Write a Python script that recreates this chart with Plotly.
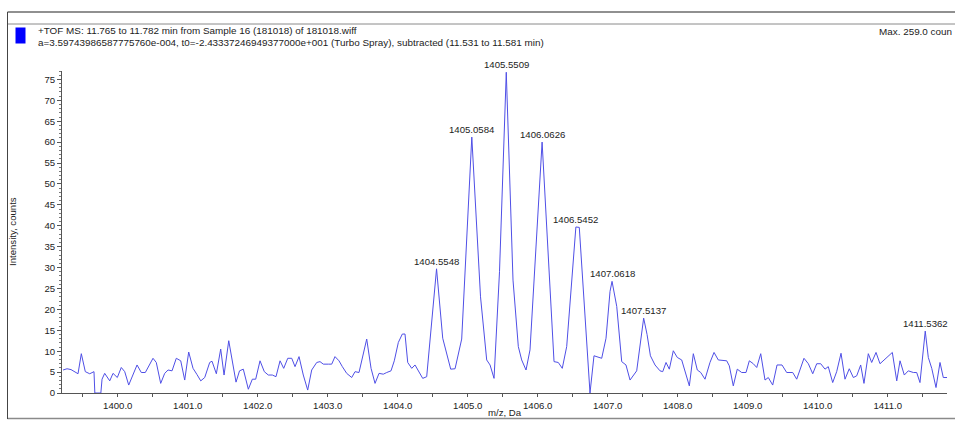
import plotly.graph_objects as go

# ---- spectrum data: m/z (Da) and intensity (counts) ----
mz = [
    1399.219, 1399.276, 1399.333, 1399.390, 1399.433, 1399.480, 1399.537, 1399.600,
    1399.661, 1399.673, 1399.719, 1399.759, 1399.776, 1399.814, 1399.886, 1399.933,
    1399.994, 1400.051, 1400.100, 1400.157, 1400.276, 1400.337, 1400.394, 1400.504,
    1400.551, 1400.614, 1400.671, 1400.719, 1400.776, 1400.837, 1400.900, 1400.957,
    1401.014, 1401.076, 1401.133, 1401.186, 1401.243, 1401.314, 1401.347, 1401.409,
    1401.471, 1401.519, 1401.586, 1401.647, 1401.690, 1401.740, 1401.794, 1401.866,
    1401.923, 1401.971, 1402.033, 1402.094, 1402.151, 1402.209, 1402.261, 1402.319,
    1402.371, 1402.429, 1402.486, 1402.533, 1402.590, 1402.651, 1402.714, 1402.771,
    1402.843, 1402.890, 1402.937, 1403.009, 1403.057, 1403.104, 1403.161, 1403.209,
    1403.271, 1403.343, 1403.390, 1403.447, 1403.557, 1403.619, 1403.676, 1403.733,
    1403.794, 1403.843, 1403.904, 1403.951, 1404.009, 1404.066, 1404.104, 1404.143,
    1404.200, 1404.247, 1404.294, 1404.357, 1404.414, 1404.5548, 1404.643, 1404.757,
    1404.819, 1404.914, 1405.0584, 1405.183, 1405.271, 1405.319, 1405.376, 1405.454,
    1405.5509, 1405.647, 1405.723, 1405.771, 1405.833, 1405.890, 1406.0626, 1406.233,
    1406.294, 1406.351, 1406.414, 1406.5452, 1406.594, 1406.669, 1406.747, 1406.804,
    1406.914, 1406.976, 1407.033, 1407.0618, 1407.129, 1407.200, 1407.261, 1407.319,
    1407.414, 1407.5137, 1407.562, 1407.610, 1407.676, 1407.747, 1407.786, 1407.833,
    1407.880, 1407.937, 1407.994, 1408.057, 1408.104, 1408.166, 1408.223, 1408.280,
    1408.329, 1408.390, 1408.461, 1408.519, 1408.580, 1408.643, 1408.700, 1408.737,
    1408.794, 1408.851, 1408.914, 1408.976, 1409.023, 1409.080, 1409.129, 1409.186,
    1409.247, 1409.294, 1409.357, 1409.419, 1409.490, 1409.557, 1409.643, 1409.700,
    1409.804, 1409.866, 1409.929, 1409.986, 1410.043, 1410.104, 1410.151, 1410.214,
    1410.271, 1410.333, 1410.390, 1410.451, 1410.509, 1410.557, 1410.614, 1410.661,
    1410.723, 1410.771, 1410.833, 1410.890, 1411.066, 1411.129, 1411.176, 1411.237,
    1411.294, 1411.366, 1411.414, 1411.461, 1411.5362, 1411.580, 1411.629, 1411.690,
    1411.747, 1411.794, 1411.851,
]
intensity = [
    5.5, 5.8, 5.6, 5.0, 4.6, 9.4, 5.1, 4.6,
    5.1, 0.0, 0.0, 0.0, 3.3, 4.7, 2.9, 4.7,
    3.7, 6.1, 5.1, 1.9, 6.7, 4.9, 4.9, 8.3,
    7.3, 2.3, 4.7, 5.5, 5.3, 8.3, 7.7, 3.1,
    9.8, 5.9, 4.4, 2.9, 3.7, 7.3, 7.6, 4.6,
    10.5, 4.3, 12.5, 6.7, 2.6, 5.3, 5.7, 0.9,
    3.3, 3.3, 7.7, 5.1, 4.3, 4.3, 3.9, 7.7,
    5.9, 8.3, 8.3, 6.3, 8.7, 4.3, 0.7, 5.5,
    7.3, 7.5, 6.9, 6.9, 6.9, 8.7, 7.7, 6.3,
    4.7, 3.7, 5.1, 4.9, 12.9, 5.9, 2.3, 4.7,
    4.5, 4.9, 5.3, 7.7, 12.1, 14.1, 14.1, 7.3,
    5.9, 6.7, 5.3, 3.5, 3.9, 29.7, 13.1, 5.7,
    5.8, 12.9, 61.2, 23.0, 7.9, 6.7, 3.5, 29.0,
    76.7, 27.0, 11.1, 7.9, 5.5, 10.3, 60.0, 7.5,
    7.3, 5.9, 11.1, 39.7, 39.6, 19.0, 0.0, 8.9,
    8.3, 13.1, 24.3, 26.7, 20.7, 7.5, 6.7, 3.1,
    5.3, 17.9, 14.0, 8.9, 6.7, 5.3, 5.1, 7.3,
    5.7, 10.1, 8.5, 7.9, 5.3, 1.7, 9.4, 5.5,
    4.9, 3.3, 7.3, 9.7, 7.9, 7.7, 7.7, 6.5,
    1.7, 5.7, 4.9, 4.9, 7.7, 7.0, 6.1, 9.4,
    3.1, 3.7, 1.9, 6.7, 6.7, 4.9, 4.9, 3.3,
    8.3, 7.0, 4.6, 7.0, 7.0, 5.7, 6.3, 2.5,
    5.1, 9.5, 3.3, 5.8, 3.7, 4.1, 6.7, 2.3,
    9.4, 7.3, 9.7, 7.0, 9.7, 2.9, 7.7, 4.3,
    5.3, 4.9, 4.9, 2.5, 14.8, 8.5, 5.9, 1.3,
    7.3, 3.7, 3.7,
]

# centroid labels drawn above the isotope peaks
peak_mz = [1404.5548, 1405.0584, 1405.5509, 1406.0626, 1406.5452,
           1407.0618, 1407.5137, 1411.5362]

x_tick_values = [1399.5 + 0.5 * i for i in range(25)]
x_tick_labels = [f"{v:.1f}" if v == int(v) else "" for v in x_tick_values]
y_tick_values = list(range(0, 80, 5))

header_line1 = "+TOF MS: 11.765 to 11.782 min from Sample 16 (181018) of 181018.wiff"
header_line2 = ("a=3.59743986587775760e-004, t0=-2.43337246949377000e+001 "
                "(Turbo Spray), subtracted (11.531 to 11.581 min)")
max_text = "Max. 259.0 coun"
threshold_level = 15

x_range = [1399.204, 1411.847]
y_range = [0, 77]

# ---- layout geometry (pixels) ----
W, H = 955, 428
ML, MR, MT, MB = 62, 8, 71, 35
PW, PH = W - ML - MR, H - MT - MB


def px(xpix):
    return (xpix - ML) / PW


def py(ypix):
    return (H - MB - ypix) / PH


FONT = "Liberation Sans, Arial, sans-serif"
TXT = "#222222"
LINE = "#4f4fe6"

fig = go.Figure()
fig.add_trace(go.Scatter(x=mz, y=intensity, mode="lines",
                         line=dict(color=LINE, width=1), hoverinfo="skip",
                         showlegend=False))

# small marker on the intensity axis
fig.add_trace(go.Scatter(x=[x_range[0] - 0.045], y=[threshold_level], mode="markers",
                         marker=dict(symbol="triangle-right", size=7, color="#1a1aff"),
                         cliponaxis=False, showlegend=False, hoverinfo="skip"))

annotations = []
for p in peak_mz:
    i = mz.index(p)
    annotations.append(dict(x=p, y=intensity[i], text=f"{p:.4f}", showarrow=False,
                            xanchor="center", yanchor="bottom", yshift=0,
                            font=dict(family=FONT, size=9.6, color=TXT)))

annotations += [
    dict(xref="paper", yref="paper", x=px(36), y=py(31), text=header_line1,
         showarrow=False, xanchor="left", yanchor="middle",
         font=dict(family=FONT, size=9.9, color=TXT)),
    dict(xref="paper", yref="paper", x=px(36), y=py(42.5), text=header_line2,
         showarrow=False, xanchor="left", yanchor="middle",
         font=dict(family=FONT, size=9.9, color=TXT)),
    dict(xref="paper", yref="paper", x=px(954), y=py(32), text=max_text,
         showarrow=False, xanchor="right", yanchor="middle",
         font=dict(family=FONT, size=9.9, color=TXT)),
    dict(xref="paper", yref="paper", x=px(12), y=py(232), text="Intensity, counts",
         showarrow=False, textangle=-90, xanchor="center", yanchor="middle",
         font=dict(family=FONT, size=9.6, color=TXT)),
    dict(xref="paper", yref="paper", x=0.5, y=py(413), text="m/z, Da",
         showarrow=False, xanchor="center", yanchor="middle",
         font=dict(family=FONT, size=9.6, color=TXT)),
]

shapes = [
    # panel frame
    dict(type="line", xref="paper", yref="paper", x0=px(7.5), x1=px(956),
         y0=py(12), y1=py(12), line=dict(color="#222222", width=1.2)),
    dict(type="line", xref="paper", yref="paper", x0=px(7.5), x1=px(956),
         y0=py(24), y1=py(24), line=dict(color="#8a8a8a", width=1)),
    dict(type="line", xref="paper", yref="paper", x0=px(7.5), x1=px(956),
         y0=py(418.5), y1=py(418.5), line=dict(color="#8a8a8a", width=1.5)),
    dict(type="line", xref="paper", yref="paper", x0=px(7.5), x1=px(7.5),
         y0=py(12), y1=py(419), line=dict(color="#444444", width=1)),
    # sample colour swatch
    dict(type="rect", xref="paper", yref="paper", x0=px(15.5), x1=px(25.5),
         y0=py(27.5), y1=py(43.5), fillcolor="#0000ff", line=dict(width=0)),
]

fig.update_layout(
    width=W, height=H,
    margin=dict(l=ML, r=MR, t=MT, b=MB),
    paper_bgcolor="white", plot_bgcolor="white",
    font=dict(family=FONT, size=9.6, color=TXT),
    annotations=annotations, shapes=shapes, showlegend=False,
    xaxis=dict(range=x_range, tickvals=x_tick_values, ticktext=x_tick_labels,
               ticks="outside", ticklen=3, tickcolor="#555555", showgrid=False,
               zeroline=False, showline=True, linecolor="#555555", linewidth=1,
               tickfont=dict(family=FONT, size=9.6, color=TXT)),
    yaxis=dict(range=y_range, tickvals=y_tick_values, ticks="outside", ticklen=4,
               tickcolor="#555555", showgrid=False, zeroline=False, showline=True,
               linecolor="#555555", linewidth=1,
               minor=dict(dtick=1, ticks="outside", ticklen=2, tickcolor="#777777"),
               tickfont=dict(family=FONT, size=9.6, color=TXT)),
)

fig.write_html("out.html")
